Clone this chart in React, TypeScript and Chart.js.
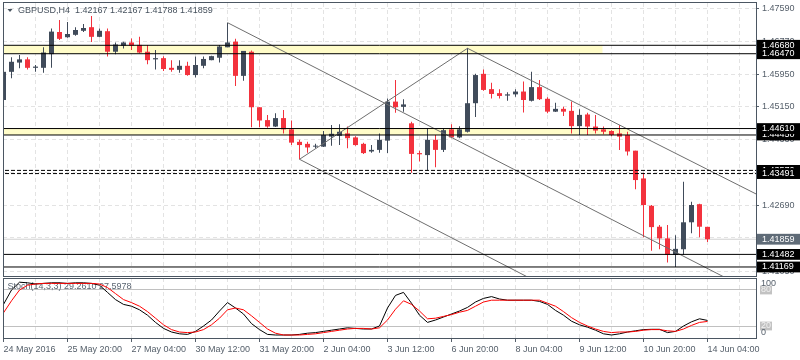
import React, { useEffect, useRef } from 'react';
import { Chart, registerables } from 'chart.js';

Chart.register(...registerables);

// ---------- DATA ----------
const candleOpen = [
  1.4532, 1.4602, 1.4625, 1.4633, 1.4612, 1.4612, 1.4646, 1.4701, 1.4688, 1.4694,
  1.4704, 1.4713, 1.4689, 1.4703, 1.4652, 1.4667, 1.4675, 1.4669, 1.4652, 1.4633,
  1.4636, 1.4612, 1.4607, 1.4617, 1.4594, 1.4617, 1.4631, 1.4637, 1.4663, 1.4677,
  1.4592, 1.4652, 1.4514, 1.4482, 1.4466, 1.4487, 1.4459, 1.4428, 1.4423, 1.4416,
  1.4416, 1.4441, 1.4443, 1.4449, 1.4439, 1.4423, 1.4404, 1.4408, 1.4431, 1.4528,
  1.4515, 1.4474, 1.4400, 1.4395, 1.4433, 1.4408, 1.4459, 1.4439, 1.4453, 1.4524,
  1.4597, 1.4559, 1.4549, 1.4543, 1.4546, 1.4553, 1.4530, 1.4564, 1.4535, 1.4503,
  1.4510, 1.4505, 1.4467, 1.4496, 1.4466, 1.4459, 1.4455, 1.4449, 1.4445, 1.4406,
  1.4337, 1.4269, 1.4217, 1.4188, 1.4147, 1.4161, 1.4228, 1.4273, 1.42167,
];
const candleHigh = [
  1.4626, 1.4638, 1.4644, 1.4638, 1.4619, 1.4663, 1.4710, 1.4731, 1.4726, 1.4713,
  1.4721, 1.4741, 1.4710, 1.4710, 1.4675, 1.4677, 1.4685, 1.4689, 1.4669, 1.4656,
  1.4641, 1.4631, 1.4631, 1.4627, 1.4640, 1.4640, 1.4642, 1.4669, 1.4724, 1.4684,
  1.4654, 1.4655, 1.4514, 1.4495, 1.4499, 1.4507, 1.4481, 1.4433, 1.4428, 1.4423,
  1.4455, 1.4470, 1.4472, 1.4466, 1.4442, 1.4426, 1.4420, 1.4449, 1.4536, 1.4582,
  1.4534, 1.4478, 1.4406, 1.4462, 1.4445, 1.4462, 1.4472, 1.4467, 1.4661, 1.4597,
  1.4608, 1.4575, 1.4559, 1.4551, 1.4559, 1.4578, 1.4602, 1.4582, 1.4539, 1.4525,
  1.4515, 1.4528, 1.4509, 1.4500, 1.4495, 1.4466, 1.4457, 1.4470, 1.4453, 1.4406,
  1.4351, 1.4271, 1.4221, 1.4221, 1.4196, 1.4329, 1.4279, 1.4274, 1.42167,
];
const candleLow = [
  1.4529, 1.4586, 1.4611, 1.4608, 1.4602, 1.4600, 1.4612, 1.4681, 1.4687, 1.4692,
  1.4701, 1.4676, 1.4688, 1.4640, 1.4646, 1.4660, 1.4656, 1.4648, 1.4621, 1.4608,
  1.4604, 1.4602, 1.4600, 1.4592, 1.4588, 1.4611, 1.4631, 1.4625, 1.4663, 1.4567,
  1.4580, 1.4464, 1.4464, 1.4463, 1.4465, 1.4449, 1.4420, 1.4385, 1.4401, 1.4412,
  1.4415, 1.4418, 1.4420, 1.4412, 1.4418, 1.4398, 1.4401, 1.4401, 1.4400, 1.4500,
  1.4503, 1.4351, 1.4379, 1.4356, 1.4365, 1.4403, 1.4437, 1.4437, 1.4451, 1.4490,
  1.4555, 1.4536, 1.4536, 1.4530, 1.4540, 1.4501, 1.4528, 1.4532, 1.4499, 1.4502,
  1.4492, 1.4449, 1.4445, 1.4445, 1.4449, 1.4447, 1.4442, 1.4408, 1.4394, 1.4310,
  1.4191, 1.4157, 1.4161, 1.4128, 1.4117, 1.4147, 1.4201, 1.4191, 1.41788,
];
const candleClose = [
  1.4602, 1.4627, 1.4633, 1.4612, 1.4615, 1.4650, 1.4702, 1.4684, 1.4696, 1.4706,
  1.4711, 1.4689, 1.4704, 1.4652, 1.4670, 1.4675, 1.4667, 1.4650, 1.4631, 1.4636,
  1.4609, 1.4607, 1.4617, 1.4594, 1.4619, 1.4634, 1.4641, 1.4665, 1.4675, 1.4592,
  1.4654, 1.4514, 1.4481, 1.4466, 1.4487, 1.4459, 1.4426, 1.4420, 1.4414, 1.4418,
  1.4445, 1.4448, 1.4453, 1.4437, 1.4420, 1.4400, 1.4408, 1.4433, 1.4528, 1.4514,
  1.4521, 1.4398, 1.4397, 1.4433, 1.4408, 1.4457, 1.4439, 1.4459, 1.4524, 1.4594,
  1.4557, 1.4547, 1.4542, 1.4546, 1.4553, 1.4532, 1.4564, 1.4534, 1.4503, 1.4510,
  1.4503, 1.4467, 1.4495, 1.4466, 1.4456, 1.4453, 1.4445, 1.4441, 1.4404, 1.4333,
  1.4271, 1.4216, 1.4188, 1.4147, 1.4162, 1.4228, 1.4271, 1.4217, 1.41859,
];

const stochK = [
  56, 80, 93, 92, 90, 91, 92, 92, 91, 92,
  92, 91, 88, 76, 64, 56, 53, 47, 38, 26,
  16, 10, 7, 6, 11, 20, 30, 45, 59, 50,
  40, 24, 14, 6, 5, 5, 5, 6, 8, 9,
  11, 13, 15, 17, 16, 15, 15, 20, 50, 71,
  76, 58, 38, 26, 30, 35, 40, 45, 51, 60,
  66, 69, 65, 63, 63, 63, 63, 61, 56, 46,
  38, 28, 22, 18, 13, 7, 5, 7, 10, 12,
  14, 14.5, 14.5, 9, 11, 20, 27, 32, 29.261,
];
const stochD = [
  42, 62, 80, 88, 90, 91, 91, 91, 91, 91,
  91, 91, 90, 84, 74, 64, 59, 53, 44, 33,
  22, 14, 10, 9, 10, 14, 22, 33, 47, 50,
  47, 37, 26, 15, 8, 5, 5, 5, 6, 7,
  9, 11, 13, 15, 16, 16, 15, 17, 30, 48,
  62, 56, 45, 32, 33, 36, 39, 43, 46, 53,
  60, 63, 63, 63, 63, 63, 63, 63, 58, 53,
  44, 34, 26, 20, 15, 11, 9, 10, 10, 11,
  13, 14, 14, 12, 11, 15, 21, 26, 27.5978,
];

const timeTickIndex = [0, 8, 16, 24, 32, 40, 48, 56, 64, 72, 80, 88];
const timeTickLabels = [
  '24 May 2016', '25 May 20:00', '27 May 04:00', '30 May 12:00', '31 May 20:00', '2 Jun 04:00',
  '3 Jun 12:00', '6 Jun 20:00', '8 Jun 04:00', '9 Jun 12:00', '10 Jun 20:00', '14 Jun 04:00',
];

const priceGridTicks = [1.4759, 1.4677, 1.4595, 1.4515, 1.4433, 1.4353, 1.4269, 1.4189, 1.4105];
const solidLevels = [1.4668, 1.4647, 1.4461, 1.4445, 1.41482, 1.41169];
const dashedLevels = [1.4357, 1.43491];
const levelLabelOrder = [1.4668, 1.4647, 1.4445, 1.4461, 1.4357, 1.43491, 1.41482, 1.41169];
const bidPrice = 1.41859;

const zoneTop = [1.4668, 1.4461];
const zoneBottom = [1.4647, 1.4445];
const zoneEndIndex = [74.9, 78.3];

const trendFromIndex = [28, 37, 37, 58];
const trendFromPrice = [1.47242, 1.43846, 1.43846, 1.46605];
const trendToIndex = [90, 66, 58, 94.2];
const trendToPrice = [1.40927, 1.4087, 1.46605, 1.42971];

const stochLevels = [80, 20];
const stochAxisTicks = [80, 20, 100, 0];

const symbolTitle = 'GBPUSD,H4  1.42167 1.42167 1.41788 1.41859';
const stochTitle = 'Stoch(14,3,3) 29.2610 27.5978';

// ---------- STYLE ----------
const FONT = "'Liberation Sans', Arial, sans-serif";
const BULL = '#404b5a';
const BEAR = '#f3323d';
const TEXT = '#56606b';
const FRAME = '#4b5662';
const GRID = '#e3e3e3';
const ZONE = '#fffcc8';
const TREND = '#6e6e6e';
const BIDLINE = '#d0d0d0';
const BIDBOX = '#5f6b77';
const PRICE_MIN = 1.40945;
const PRICE_MAX = 1.47731;
const X_MIN = -0.0625;
const X_MAX = 94.0625;

const gridIndex: number[] = [];
for (let k = 0; k <= 92; k += 4) gridIndex.push(k);

function zeroPad(s: any) {
  s.paddingLeft = 0;
  s.paddingRight = 0;
  s.paddingTop = 0;
  s.paddingBottom = 0;
}

const markedSet = new Set<number>([...levelLabelOrder, bidPrice]);
const isMarked = (c: any) => !!(c && c.tick && markedSet.has(c.tick.value));

const mainDecor = {
  id: 'mainDecor',
  afterDatasetsDraw(chart: any) {
    const { ctx, chartArea: a } = chart;
    ctx.save();
    ctx.fillStyle = '#47525e';
    ctx.beginPath();
    ctx.moveTo(a.left + 4.5, a.top + 6);
    ctx.lineTo(a.left + 9.5, a.top + 6);
    ctx.lineTo(a.left + 7, a.top + 9);
    ctx.closePath();
    ctx.fill();
    ctx.font = `9px ${FONT}`;
    ctx.textBaseline = 'middle';
    ctx.textAlign = 'left';
    ctx.fillText(symbolTitle, a.left + 15, a.top + 8);
    ctx.restore();
  },
  afterDraw(chart: any) {
    const { ctx, chartArea: a } = chart;
    ctx.save();
    ctx.strokeStyle = FRAME;
    ctx.lineWidth = 1;
    ctx.strokeRect(a.left + 0.5, a.top - 0.5, a.right - a.left, a.bottom - a.top + 1);
    ctx.restore();
  },
};

const stochDecor = {
  id: 'stochDecor',
  beforeDatasetsDraw(chart: any) {
    const { ctx, chartArea: a } = chart;
    ctx.save();
    ctx.fillStyle = '#5a6572';
    ctx.font = `9px ${FONT}`;
    ctx.textBaseline = 'middle';
    ctx.textAlign = 'left';
    ctx.fillText(stochTitle, a.left + 4.5, a.top + 9);
    ctx.restore();
  },
  afterDraw(chart: any) {
    const { ctx, chartArea: a } = chart;
    ctx.save();
    ctx.strokeStyle = FRAME;
    ctx.lineWidth = 1;
    ctx.strokeRect(a.left + 0.5, a.top + 0.5, a.right - a.left, a.bottom - a.top);
    ctx.restore();
  },
};

function hLine(y: number, color: string, dash: number[], order: number) {
  return {
    type: 'line',
    data: [{ x: X_MIN - 2, y }, { x: X_MAX + 2, y }],
    borderColor: color,
    borderWidth: 1,
    borderDash: dash,
    pointRadius: 0,
    fill: false,
    order,
  };
}

function buildMainConfig(): any {
  const idx = candleOpen.map((_, i) => i);
  const colors = idx.map((i) => (candleClose[i] >= candleOpen[i] ? BULL : BEAR));
  const datasets: any[] = [];
  zoneTop.forEach((top, k) => {
    datasets.push({
      type: 'line',
      data: [{ x: X_MIN - 2, y: top }, { x: zoneEndIndex[k], y: top }],
      borderColor: 'transparent',
      backgroundColor: ZONE,
      fill: '+1',
      pointRadius: 0,
      order: 30,
    });
    datasets.push({
      type: 'line',
      data: [{ x: X_MIN - 2, y: zoneBottom[k] }, { x: zoneEndIndex[k], y: zoneBottom[k] }],
      borderColor: 'transparent',
      fill: false,
      pointRadius: 0,
      order: 30,
    });
  });
  datasets.push(hLine(bidPrice, BIDLINE, [], 25));
  datasets.push({
    type: 'bar',
    data: idx.map((i) => ({ x: i, y: [candleLow[i], candleHigh[i]] })),
    backgroundColor: colors,
    borderWidth: 0,
    barThickness: 1,
    grouped: false,
    inflateAmount: 0,
    order: 3,
  });
  datasets.push({
    type: 'bar',
    data: idx.map((i) => ({ x: i, y: [candleOpen[i], candleClose[i]] })),
    backgroundColor: colors,
    borderWidth: 0,
    barThickness: 5,
    minBarLength: 1,
    grouped: false,
    inflateAmount: 0,
    order: 2,
  });
  trendFromIndex.forEach((_, k) => {
    datasets.push({
      type: 'line',
      data: [
        { x: trendFromIndex[k], y: trendFromPrice[k] },
        { x: trendToIndex[k], y: trendToPrice[k] },
      ],
      borderColor: TREND,
      borderWidth: 1,
      pointRadius: 0,
      fill: false,
      order: 1,
    });
  });
  solidLevels.forEach((v) => datasets.push(hLine(v, '#000000', [], 0)));
  dashedLevels.forEach((v) => datasets.push(hLine(v, '#000000', [4, 2], 0)));

  return {
    type: 'bar',
    data: { datasets },
    plugins: [mainDecor],
    options: {
      responsive: false,
      animation: false,
      devicePixelRatio: 1,
      events: [],
      layout: { padding: { left: 3, top: 3, right: 0, bottom: 1 }, autoPadding: false },
      plugins: { legend: { display: false }, tooltip: { enabled: false }, title: { display: false } },
      scales: {
        x: {
          type: 'linear',
          min: X_MIN,
          max: X_MAX,
          offset: false,
          afterBuildTicks: (s: any) => {
            s.ticks = gridIndex.map((v) => ({ value: v }));
          },
          afterFit: (s: any) => {
            s.height = 0;
            zeroPad(s);
          },
          grid: { color: GRID, offset: false, drawTicks: false },
          border: { display: false, dash: [4, 3] },
          ticks: { display: false },
        },
        y: {
          type: 'linear',
          position: 'right',
          min: PRICE_MIN,
          max: PRICE_MAX,
          afterBuildTicks: (s: any) => {
            s.ticks = [...priceGridTicks, bidPrice, ...levelLabelOrder].map((v) => ({ value: v }));
          },
          afterFit: (s: any) => {
            s.width = 44;
            zeroPad(s);
          },
          grid: {
            color: (c: any) => (isMarked(c) ? 'transparent' : GRID),
            tickColor: (c: any) => (isMarked(c) ? 'transparent' : TEXT),
            tickLength: 3,
            drawTicks: true,
          },
          border: { display: false, dash: [4, 3] },
          ticks: {
            autoSkip: false,
            padding: 3,
            font: { family: FONT, size: 9 },
            color: (c: any) => (isMarked(c) ? '#ffffff' : TEXT),
            showLabelBackdrop: (c: any) => isMarked(c),
            backdropColor: (c: any) => (c && c.tick && c.tick.value === bidPrice ? BIDBOX : '#000000'),
            backdropPadding: { left: 5, right: 8, top: 0, bottom: 0 },
            callback: (v: any) => Number(v).toFixed(5),
          },
        },
      },
    },
  };
}

function buildStochConfig(): any {
  const idx = stochK.map((_, i) => i);
  return {
    type: 'line',
    data: {
      datasets: [
        {
          data: idx.map((i) => ({ x: i, y: stochK[i] })),
          borderColor: '#000000',
          borderWidth: 1,
          pointRadius: 0,
          fill: false,
          order: 1,
        },
        {
          data: idx.map((i) => ({ x: i, y: stochD[i] })),
          borderColor: '#ff0000',
          borderWidth: 1,
          pointRadius: 0,
          fill: false,
          order: 0,
        },
      ],
    },
    plugins: [stochDecor],
    options: {
      responsive: false,
      animation: false,
      devicePixelRatio: 1,
      events: [],
      layout: { padding: { left: 3, top: 1, right: 0, bottom: 0 }, autoPadding: false },
      plugins: { legend: { display: false }, tooltip: { enabled: false }, title: { display: false } },
      scales: {
        x: {
          type: 'linear',
          min: X_MIN,
          max: X_MAX,
          offset: false,
          afterBuildTicks: (s: any) => {
            s.ticks = gridIndex.map((v) => ({ value: v }));
          },
          afterFit: (s: any) => {
            s.height = 22;
            zeroPad(s);
          },
          grid: {
            color: GRID,
            offset: false,
            drawTicks: true,
            tickLength: 4,
            tickColor: (c: any) =>
              c && c.tick && timeTickIndex.indexOf(c.tick.value) >= 0 ? TEXT : 'transparent',
          },
          border: { display: false, dash: [4, 3] },
          ticks: {
            autoSkip: false,
            maxRotation: 0,
            minRotation: 0,
            align: 'start',
            padding: 2,
            font: { family: FONT, size: 9 },
            color: TEXT,
            callback: (v: any) => {
              const k = timeTickIndex.indexOf(Number(v));
              return k >= 0 ? timeTickLabels[k] : '';
            },
          },
        },
        y: {
          type: 'linear',
          position: 'right',
          min: 0,
          max: 100,
          afterBuildTicks: (s: any) => {
            s.ticks = stochAxisTicks.map((v) => ({ value: v }));
          },
          afterFit: (s: any) => {
            s.width = 44;
            zeroPad(s);
          },
          grid: {
            color: (c: any) => (c && c.tick && stochLevels.indexOf(c.tick.value) >= 0 ? '#c0c0c0' : 'transparent'),
            drawTicks: false,
          },
          border: { display: false },
          ticks: {
            autoSkip: false,
            padding: 5,
            font: { family: FONT, size: 9 },
            color: (c: any) => (c && c.tick && stochLevels.indexOf(c.tick.value) >= 0 ? '#f2f2f2' : TEXT),
            showLabelBackdrop: (c: any) => !!(c && c.tick && stochLevels.indexOf(c.tick.value) >= 0),
            backdropColor: '#c2c2c2',
            backdropPadding: { left: 1, right: 1, top: -1, bottom: -1 },
            callback: (v: any) => {
              const n = Number(v);
              if (n === 100) return ['', '100'];
              if (n === 0) return ['0', ''];
              return String(n);
            },
          },
        },
      },
    },
  };
}

export default function App() {
  const mainRef = useRef<HTMLCanvasElement>(null);
  const stochRef = useRef<HTMLCanvasElement>(null);

  useEffect(() => {
    const main = new Chart(mainRef.current as HTMLCanvasElement, buildMainConfig());
    const stoch = new Chart(stochRef.current as HTMLCanvasElement, buildStochConfig());
    return () => {
      main.destroy();
      stoch.destroy();
    };
  }, []);

  return (
    <div
      style={{
        position: 'absolute',
        left: 0,
        top: 0,
        width: 800,
        height: 360,
        background: '#ffffff',
        overflow: 'hidden',
      }}
    >
      <canvas
        ref={mainRef}
        width={800}
        height={277}
        style={{ position: 'absolute', left: 0, top: 0, width: 800, height: 277 }}
      />
      <canvas
        ref={stochRef}
        width={800}
        height={83}
        style={{ position: 'absolute', left: 0, top: 277, width: 800, height: 83 }}
      />
    </div>
  );
}
